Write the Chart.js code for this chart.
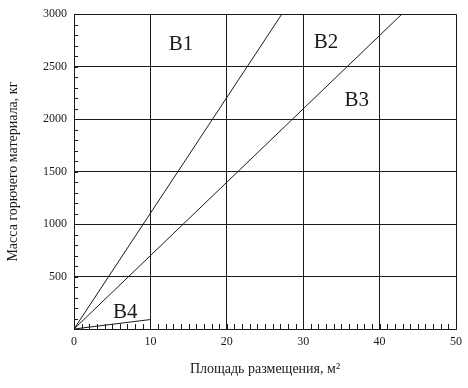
<!DOCTYPE html>
<html>
<head>
<meta charset="utf-8">
<script src="https://cdn.jsdelivr.net/npm/chart.js@4.4.0/dist/chart.umd.min.js"></script>
<style>
  html, body { margin: 0; padding: 0; background: #fff; }
</style>
</head>
<body>
<canvas id="fireChart" width="468" height="388"></canvas>
<script>
// Line end points (x = m2, y = kg)
const b1X = [0, 27.2];
const b1Y = [0, 3000];
const b3X = [0, 42.9];
const b3Y = [0, 3000];
const b4X = [0, 10];
const b4Y = [0, 90];

// Zone names and where they sit, in axis units
const zoneNames = ['B1', 'B2', 'B3', 'B4'];
const zoneX = [14.0, 33.0, 37.0, 6.7];
const zoneY = [2715, 2735, 2175, 160];

const xTitle = 'Площадь размещения, м²';
const yTitle = 'Масса горючего материала, кг';

const ink = '#1a1a1a';
const serif = '"Liberation Serif", "DejaVu Serif", serif';

// turn two arrays into {x, y} points
const toPoints = (xs, ys) => xs.map((x, i) => ({ x: x, y: ys[i] }));

const lineSet = (name, xs, ys) => ({
  label: name,
  data: toPoints(xs, ys),
  showLine: true,
  borderColor: ink,
  borderWidth: 1,
  pointRadius: 0,
  tension: 0,
});

// short inward ticks on the left and bottom axes
const minorTicks = {
  id: 'minorTicks',
  afterDraw(chart) {
    const { ctx, chartArea, scales } = chart;
    ctx.save();
    ctx.strokeStyle = ink;
    ctx.lineWidth = 1;
    ctx.beginPath();
    scales.y.ticks.forEach((t) => {
      const py = Math.round(scales.y.getPixelForValue(t.value)) + 0.5;
      ctx.moveTo(chartArea.left, py);
      ctx.lineTo(chartArea.left + 4, py);
    });
    scales.x.ticks.forEach((t) => {
      const px = Math.round(scales.x.getPixelForValue(t.value)) + 0.5;
      ctx.moveTo(px, chartArea.bottom);
      ctx.lineTo(px, chartArea.bottom - 5);
    });
    ctx.stroke();
    ctx.restore();
  },
};

// zone names placed on the chart
const zoneLabels = {
  id: 'zoneLabels',
  afterDatasetsDraw(chart) {
    const { ctx, scales } = chart;
    ctx.save();
    ctx.fillStyle = ink;
    ctx.font = '21px ' + serif;
    ctx.textAlign = 'center';
    ctx.textBaseline = 'middle';
    zoneNames.forEach((name, i) => {
      ctx.fillText(name, scales.x.getPixelForValue(zoneX[i]), scales.y.getPixelForValue(zoneY[i]));
    });
    ctx.restore();
  },
};

new Chart(document.getElementById('fireChart'), {
  type: 'scatter',
  data: {
    datasets: [
      lineSet('B1', b1X, b1Y),
      lineSet('B3', b3X, b3Y),
      lineSet('B4', b4X, b4Y),
    ],
  },
  options: {
    responsive: false,
    animation: false,
    layout: { padding: { left: 0, right: 12, top: 13, bottom: 0 } },
    plugins: {
      legend: { display: false },
      tooltip: { enabled: false },
    },
    scales: {
      x: {
        type: 'linear',
        min: 0,
        max: 50,
        afterFit: (s) => { s.height = 59; },
        ticks: {
          stepSize: 1,
          autoSkip: false,
          maxRotation: 0,
          padding: 6,
          color: ink,
          font: { family: serif, size: 12 },
          callback: (v) => (Math.round(v) % 10 === 0 ? v : ''),
        },
        grid: {
          drawTicks: false,
          lineWidth: 1,
          color: (c) => (c.tick && Math.round(c.tick.value) % 10 === 0 ? ink : 'transparent'),
        },
        border: { color: ink, width: 1 },
        title: {
          display: true,
          text: xTitle,
          color: ink,
          font: { family: serif, size: 14 },
          padding: { top: 0, bottom: 10 },
        },
      },
      y: {
        min: 0,
        max: 3000,
        afterFit: (s) => { s.width = 74; },
        ticks: {
          stepSize: 100,
          autoSkip: false,
          padding: 7,
          color: ink,
          font: { family: serif, size: 12 },
          callback: (v) => (v % 500 === 0 && v !== 0 ? v : ''),
        },
        grid: {
          drawTicks: false,
          lineWidth: 1,
          color: (c) => (c.tick && c.tick.value % 500 === 0 ? ink : 'transparent'),
        },
        border: { color: ink, width: 1 },
        title: {
          display: true,
          text: yTitle,
          color: ink,
          font: { family: serif, size: 14 },
          padding: { top: 5, bottom: 0 },
        },
      },
    },
  },
  plugins: [minorTicks, zoneLabels],
});
</script>
</body>
</html>
